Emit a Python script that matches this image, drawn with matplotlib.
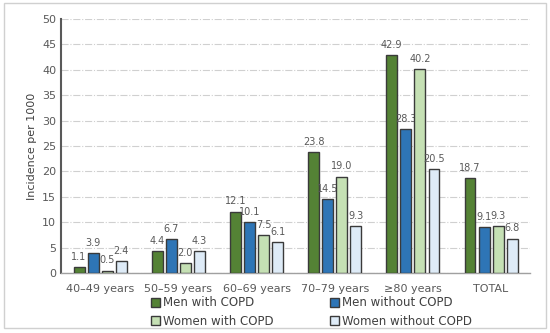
import numpy as np
import matplotlib.pyplot as plt
from matplotlib.patches import Rectangle

# Age groups and incidence per 1000
groups = ["40\u201349 years", "50\u201359 years", "60\u201369 years",
          "70\u201379 years", "\u226580 years", "TOTAL"]
men_copd = [1.1, 4.4, 12.1, 23.8, 42.9, 18.7]
men_no_copd = [3.9, 6.7, 10.1, 14.5, 28.3, 9.1]
women_copd = [0.5, 2.0, 7.5, 19.0, 40.2, 9.3]
women_no_copd = [2.4, 4.3, 6.1, 9.3, 20.5, 6.8]

series = [
    ("Men with COPD", men_copd, "#548235"),
    ("Men without COPD", men_no_copd, "#2E75B6"),
    ("Women with COPD", women_copd, "#C5E0B4"),
    ("Women without COPD", women_no_copd, "#DEEBF7"),
]

fig = plt.figure(figsize=(5.5, 3.33), dpi=100)
ax = fig.add_axes([0.111, 0.180, 0.853, 0.763])

# light frame around the whole figure
fig.patches.append(Rectangle((0.007, 0.015), 0.985, 0.975, transform=fig.transFigure,
                             fill=False, edgecolor="#d0d0d0", linewidth=1))

x = np.arange(len(groups))
step = 0.18
width = 0.14
for i, (name, vals, col) in enumerate(series):
    pos = x + (i - 1.5) * step
    ax.bar(pos, vals, width, color=col, edgecolor="#3a3a3a", linewidth=1,
           label=name, zorder=3)
    for p, v in zip(pos, vals):
        ax.text(p, v + 1.0, f"{v:.1f}", ha="center", va="bottom",
                fontsize=7, color="#595959")

ax.set_xlim(-0.5, len(groups) - 0.5)
ax.set_ylim(0, 50)
ax.set_yticks(range(0, 51, 5))
ax.set_xticks(x)
ax.set_xticklabels(groups)
ax.tick_params(axis="both", length=0, labelsize=8, colors="#595959")
ax.tick_params(axis="x", pad=8)
ax.set_ylabel("Incidence per 1000", fontsize=8, color="#404040")

ax.grid(axis="y", linestyle="-.", color="#d0d0d0", linewidth=0.8, zorder=0)
for s in ["top", "right"]:
    ax.spines[s].set_visible(False)
ax.spines["left"].set_color("#595959")
ax.spines["left"].set_linewidth(1.5)
ax.spines["bottom"].set_color("#a0a0a0")
ax.spines["bottom"].set_linewidth(1)

# legend filled row by row, like the original
handles, labels = ax.get_legend_handles_labels()
order = [0, 2, 1, 3]
fig.legend([handles[i] for i in order], [labels[i] for i in order], ncol=2,
           loc="center", bbox_to_anchor=(0.567, 0.063),
           frameon=False, fontsize=8.5, handlelength=0.75, handleheight=0.75,
           handletextpad=0.25, columnspacing=4.8, labelspacing=0.45,
           labelcolor="#404040")

fig.savefig("out.png", dpi=100)
